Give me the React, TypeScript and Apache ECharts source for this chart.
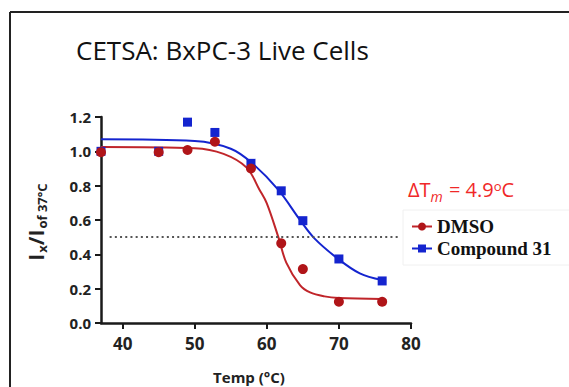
import React, { useEffect, useRef } from "react";
import * as echarts from "echarts";

// Measured temperatures (°C) and normalised soluble protein (Ix / I at 37 °C)
const temps = [37, 45, 49, 52.8, 57.8, 62, 65, 70, 76];
const dmsoValues = [0.995, 0.995, 1.008, 1.056, 0.9, 0.464, 0.314, 0.124, 0.124];
const compoundValues = [1.0, 1.0, 1.17, 1.11, 0.93, 0.77, 0.596, 0.373, 0.245];

// Fitted melting curves
const dmsoFitTemps = [37, 50, 54, 57.2, 59, 60, 61.6, 62.7, 64.6, 66, 68, 70, 76];
const dmsoFitValues = [1.025, 1.018, 0.985, 0.905, 0.775, 0.697, 0.5, 0.352, 0.221, 0.178, 0.155, 0.146, 0.14];
const compoundFitTemps = [37, 50, 55, 58, 61.6, 64.6, 66.6, 69.9, 72.9, 76];
const compoundFitValues = [1.07, 1.06, 1.015, 0.93, 0.775, 0.6, 0.493, 0.373, 0.289, 0.25];

const xTicks = [40, 50, 60, 70, 80];
const halfLevel = 0.5;
const halfLineFrom = 38.2;
const halfLineTo = 78.5;

const RED = "#b01519";
const CURVE_RED = "#c0252a";
const BLUE = "#1424cf";
const SANS = "'Open Sans', 'Liberation Sans', sans-serif";

const zip = (xs: number[], ys: number[]) => xs.map((x, i) => [x, ys[i]]);

export default function App() {
  const ref = useRef<HTMLDivElement>(null);

  useEffect(() => {
    document.body.style.margin = "0";
    const chart = echarts.init(ref.current!, undefined, { renderer: "svg" });
    chart.setOption({
      animation: false,
      backgroundColor: "#ffffff",
      grid: { left: 101, top: 117, width: 310, height: 206 },
      xAxis: {
        type: "value",
        min: 37,
        max: 80,
        splitLine: { show: false },
        axisLine: { show: true, lineStyle: { color: "#1a1a1a", width: 2.5 } },
        axisTick: { show: true, customValues: xTicks, length: 6, lineStyle: { color: "#1a1a1a", width: 2 } },
        axisLabel: {
          customValues: xTicks,
          margin: 12,
          color: "#222",
          fontFamily: SANS,
          fontWeight: "bold",
          fontSize: 17,
        },
      },
      yAxis: {
        type: "value",
        min: 0,
        max: 1.2,
        interval: 0.2,
        splitLine: { show: false },
        axisLine: { show: true, lineStyle: { color: "#1a1a1a", width: 2.5 } },
        axisTick: { show: true, length: 6, lineStyle: { color: "#1a1a1a", width: 2 } },
        axisLabel: {
          margin: 10,
          color: "#222",
          fontFamily: SANS,
          fontWeight: "bold",
          fontSize: 15,
          formatter: (v: number) => v.toFixed(1),
        },
      },
      legend: {
        orient: "vertical",
        left: 403,
        top: 210,
        padding: [7, 40, 7, 8],
        itemGap: 3,
        itemWidth: 20,
        itemHeight: 10,
        backgroundColor: "#ffffff",
        borderColor: "#f0f0f0",
        borderWidth: 1,
        data: ["DMSO", "Compound 31"],
        textStyle: {
          fontFamily: "'Liberation Serif', 'Times New Roman', serif",
          fontWeight: "bold",
          fontSize: 19,
          color: "#111",
        },
      },
      series: [
        {
          name: "DMSO",
          type: "line",
          data: zip(dmsoFitTemps, dmsoFitValues),
          smooth: 0.35,
          showSymbol: false,
          symbol: "circle",
          symbolSize: 8,
          itemStyle: { color: RED },
          lineStyle: { color: CURVE_RED, width: 2 },
          z: 2,
          markLine: {
            silent: true,
            symbol: "none",
            label: { show: false },
            lineStyle: { color: "#555", width: 2, type: [2, 3.2] },
            data: [[{ coord: [halfLineFrom, halfLevel] }, { coord: [halfLineTo, halfLevel] }]],
          },
        },
        {
          name: "Compound 31",
          type: "line",
          data: zip(compoundFitTemps, compoundFitValues),
          smooth: 0.35,
          showSymbol: false,
          symbol: "rect",
          symbolSize: 8,
          itemStyle: { color: BLUE },
          lineStyle: { color: BLUE, width: 2 },
          z: 2,
        },
        {
          name: "Compound 31",
          type: "scatter",
          data: zip(temps, compoundValues),
          symbol: "rect",
          symbolSize: 9,
          itemStyle: { color: BLUE, opacity: 1 },
          z: 3,
        },
        {
          name: "DMSO",
          type: "scatter",
          data: zip(temps, dmsoValues),
          symbol: "circle",
          symbolSize: 10,
          itemStyle: { color: RED, opacity: 1 },
          z: 4,
        },
      ],
      graphic: [
        // outer frame
        { type: "line", shape: { x1: 10, y1: 12, x2: 569, y2: 12 }, style: { stroke: "#222", lineWidth: 2 } },
        { type: "line", shape: { x1: 10, y1: 12, x2: 10, y2: 387 }, style: { stroke: "#222", lineWidth: 2 } },
        {
          type: "text",
          x: 76,
          y: 50,
          style: {
            text: "CETSA: BxPC-3 Live Cells",
            fill: "#111",
            fontFamily: SANS,
            fontSize: 26,
            align: "left",
            verticalAlign: "middle",
          },
        },
        {
          type: "text",
          x: 37,
          y: 222,
          rotation: Math.PI / 2,
          style: {
            text: "{b|I}{s|x}{b|/I}{s|of 37°C}",
            align: "center",
            verticalAlign: "middle",
            fill: "#222",
            rich: {
              b: { fontSize: 21, fontWeight: "bold", fontFamily: SANS, fill: "#222", verticalAlign: "top", lineHeight: 23 },
              s: { fontSize: 13, fontWeight: "bold", fontFamily: SANS, fill: "#222", verticalAlign: "bottom", lineHeight: 15, padding: [11, 0, 0, 1] },
            },
          },
        },
        {
          type: "text",
          x: 249,
          y: 377,
          style: {
            text: "Temp (°C)",
            fill: "#222",
            fontFamily: SANS,
            fontWeight: "bold",
            fontSize: 15,
            align: "center",
            verticalAlign: "middle",
          },
        },
        {
          type: "text",
          x: 408,
          y: 191,
          style: {
            text: "{n|ΔT}{i|m}{n| = 4.9}{o|o}{n|C}",
            align: "left",
            verticalAlign: "middle",
            fill: "#f02828",
            rich: {
              n: { fontSize: 20, fontFamily: SANS, fill: "#f02828", verticalAlign: "top", lineHeight: 24 },
              i: { fontSize: 14, fontStyle: "italic", fontFamily: SANS, fill: "#f02828", verticalAlign: "bottom", lineHeight: 15, padding: [11, 1, 0, 0] },
              o: { fontSize: 13, fontFamily: SANS, fill: "#f02828", verticalAlign: "top", lineHeight: 13 },
            },
          },
        },
      ],
    });
    return () => chart.dispose();
  }, []);

  return <div ref={ref} style={{ width: 569, height: 387 }} />;
}
